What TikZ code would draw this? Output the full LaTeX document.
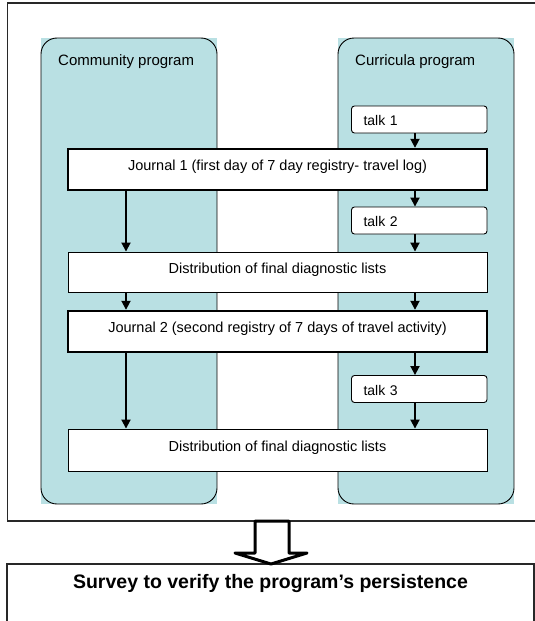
\documentclass[tikz,border=0pt]{standalone}
\usepackage{fontspec}
\setmainfont{Liberation Sans}
\usetikzlibrary{arrows.meta}
\definecolor{lanecol}{RGB}{185,224,227}
\definecolor{framecol}{RGB}{40,40,40}
\begin{document}
\begin{tikzpicture}[x=1pt,y=-1pt,
  arr/.style={line width=1.8pt,-{Triangle[width=9pt,length=9pt]}},
  box/.style={draw,line width=0.9pt,fill=white,minimum width=419pt,minimum height=40pt,
    inner sep=0pt,text height=9pt,text depth=7pt,font=\fontsize{14.5}{17}\selectfont},
  jbox/.style={box,line width=2.4pt,minimum height=41pt},
  talkbox/.style={draw,line width=0.9pt,fill=white,rounded corners=3pt,minimum height=27pt,
    text width=111.5pt,inner xsep=12pt,inner ysep=0pt,align=left,
    text height=12pt,text depth=0pt,font=\fontsize{14}{16}\selectfont},
  lanelabel/.style={anchor=base west,inner sep=0pt,font=\fontsize{15}{17}\selectfont},
  lane/.style={draw,line width=0.9pt,rounded corners=16pt},
  frame/.style={draw=framecol,line width=1.3pt}
]
\useasboundingbox (0,0) rectangle (535,621);

% outer frame
\draw[frame] (7.5,3) rectangle (548,521);

% lanes
\fill[lanecol] (41,38) rectangle (217,504);
\draw[lane] (41,38) rectangle (217,504);
\fill[lanecol] (338,38) rectangle (514,504);
\draw[lane] (338,38) rectangle (514,504);

\node[lanelabel] (lcom) at (58,65.5) {Community program};
\node[lanelabel] (lcur) at (355,65.5) {Curricula program};

% boxes
\node[talkbox] (t1) at (419.25,119.5) {talk 1};
\node[jbox] (j1) at (277.5,169.5) {Journal 1 (first day of 7 day registry- travel log)};
\node[talkbox] (t2) at (419.25,220.5) {talk 2};
\node[box] (d1) at (277.5,272) {Distribution of final diagnostic lists};
\node[jbox] (j2) at (277.5,331.5) {Journal 2 (second registry of 7 days of travel activity)};
\node[talkbox] (t3) at (419.25,389) {talk 3};
\node[box,minimum height=42pt] (d2) at (277.5,450) {Distribution of final diagnostic lists};

% arrow columns
\coordinate (L) at (126,0);
\coordinate (R) at (415,0);

\draw[arr] (t1.south -| R) -- (j1.north -| R);
\draw[arr] (j1.south -| R) -- (t2.north -| R);
\draw[arr] (t2.south -| R) -- (d1.north -| R);
\draw[arr] (j1.south -| L) -- (d1.north -| L);
\draw[arr] (d1.south -| L) -- (j2.north -| L);
\draw[arr] (d1.south -| R) -- (j2.north -| R);
\draw[arr] (j2.south -| R) -- (t3.north -| R);
\draw[arr] (t3.south -| R) -- (d2.north -| R);
\draw[arr] (j2.south -| L) -- (d2.north -| L);

% survey box
\draw[frame] (7,564) rectangle (534,640);
\node[anchor=base,inner sep=0pt,font=\bfseries\fontsize{19.5}{22}\selectfont] (survey) at (270.5,588) {Survey to verify the program’s persistence};

% big hollow arrow
\draw[line width=3pt,line join=round,fill=white]
  (255,521) -- (255,553) -- (235,553) -- (271,564) -- (307,553) -- (289,553) -- (289,521) -- cycle;
\end{tikzpicture}
\end{document}
